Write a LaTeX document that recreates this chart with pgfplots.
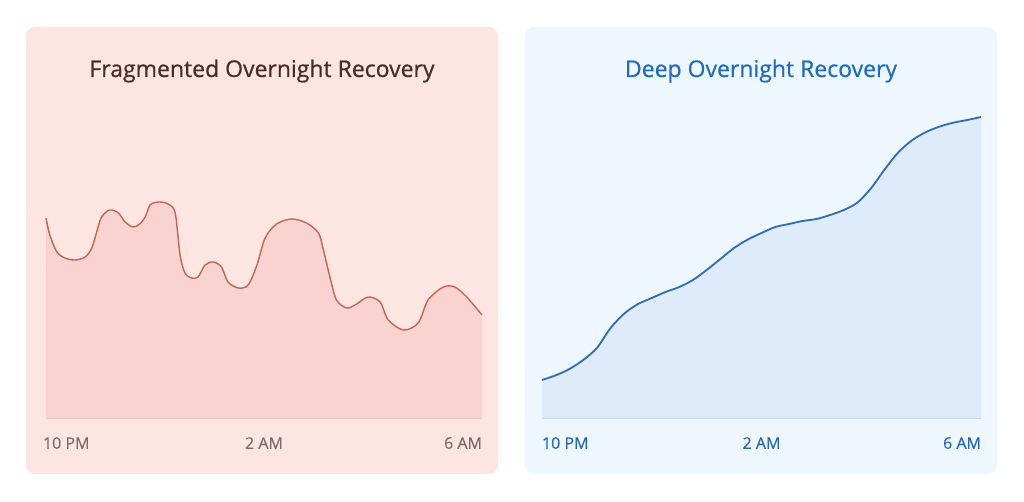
\documentclass[border=0pt]{standalone}
\usepackage{pgfplots}
\pgfplotsset{compat=1.18}
\usepackage{pgfplotstable}
\usepackage{fontspec}
\setmainfont{Open Sans}
\newfontfamily\titlefont[FakeBold=0.6]{Open Sans}
\newfontfamily\tickfont[FakeBold=0.3]{Open Sans}
\definecolor{lbg}{HTML}{FDE6E2}
\definecolor{lfill}{HTML}{F8D3D0}
\definecolor{lline}{HTML}{C2654F}
\definecolor{ltitle}{HTML}{4A2B27}
\definecolor{ltick}{HTML}{7D6B69}
\definecolor{lbase}{HTML}{EFC3C0}
\definecolor{rbg}{HTML}{EEF6FE}
\definecolor{rfill}{HTML}{DDEBFA}
\definecolor{rline}{HTML}{2C6DB3}
\definecolor{rtitle}{HTML}{1E6CC0}
\definecolor{rtick}{HTML}{2467B0}
\definecolor{rbase}{HTML}{BCD4EE}

\pgfplotstableread{
h v
0.00 200
0.07 183
0.20 166
0.35 160
0.53 158
0.72 161
0.84 170
0.93 186
1.02 201
1.17 208
1.33 205
1.45 196
1.60 191
1.72 194
1.82 201
1.91 213
2.06 216
2.24 214
2.37 205
2.46 163
2.55 145
2.67 140
2.79 141
2.92 153
3.07 156
3.22 151
3.34 136
3.53 130
3.71 133
3.87 153
4.02 180
4.23 194
4.51 199
4.78 195
5.00 185
5.09 168
5.21 141
5.33 118
5.52 110
5.70 114
5.91 121
6.13 116
6.28 98
6.56 88
6.83 95
7.01 118
7.29 131
7.50 131
7.72 121
8.00 103
}\fragdata

\pgfplotstableread{
h v
0.00 38
0.25 42.7
0.50 49
0.75 58
1.00 70
1.25 90
1.50 104.5
1.75 114
2.00 120
2.25 126
2.50 131
2.75 138
3.00 148
3.25 159
3.50 170
3.75 178.5
4.00 185
4.25 191
4.50 194
4.75 197
5.00 199
5.25 203
5.50 208
5.75 215.5
6.00 230
6.25 249
6.50 266
6.75 278
7.00 286
7.25 291.5
7.50 295.4
7.75 298
8.00 301
}\deepdata

\pgfplotsset{
  panel/.style={
    scale only axis, height=330pt,
    xmin=0, xmax=8, ymin=0, ymax=330,
    axis y line=none, axis x line=bottom,
    axis line style={-},
    xtick={0,4,8},
    major tick length=0pt,
    ytick=\empty,
    clip=false,
    xticklabel style={anchor=north, inner sep=0pt, yshift=-19pt, font=\tickfont\fontsize{16}{18}\selectfont},
  }
}

\begin{document}
\begin{tikzpicture}[x=1pt,y=1pt]
\fill[white] (0,0) rectangle (1024,501);
% panels
\fill[lbg, rounded corners=9pt] (26,27) rectangle (498,474);
\fill[rbg, rounded corners=9pt] (525,27) rectangle (997,474);
\node[text=ltitle, font=\titlefont\fontsize{23}{27}\selectfont] at (262,430) {Fragmented Overnight Recovery};
\node[text=rtitle, font=\titlefont\fontsize{23}{27}\selectfont] at (761,430) {Deep Overnight Recovery};

\begin{axis}[panel, at={(46pt,83pt)}, anchor=origin, width=436pt,
  x axis line style={lbase, line width=1pt},
  xticklabel style={text=ltick},
  xticklabels={\makebox[0pt][l]{\hspace*{-3pt}10 PM}, 2 AM, \makebox[0pt][r]{6 AM}}]
\addplot[fill=lfill, draw=none, smooth] table[x=h,y=v]{\fragdata} \closedcycle;
\addplot[lline, line width=1.4pt, smooth] table[x=h,y=v]{\fragdata};
\end{axis}

\begin{axis}[panel, at={(542pt,83pt)}, anchor=origin, width=439pt,
  x axis line style={rbase, line width=1pt},
  xticklabel style={text=rtick},
  xticklabels={\makebox[0pt][l]{10 PM}, 2 AM, \makebox[0pt][r]{6 AM}}]
\addplot[fill=rfill, draw=none, smooth] table[x=h,y=v]{\deepdata} \closedcycle;
\addplot[rline, line width=1.8pt, smooth] table[x=h,y=v]{\deepdata};
\end{axis}
\end{tikzpicture}
\end{document}
